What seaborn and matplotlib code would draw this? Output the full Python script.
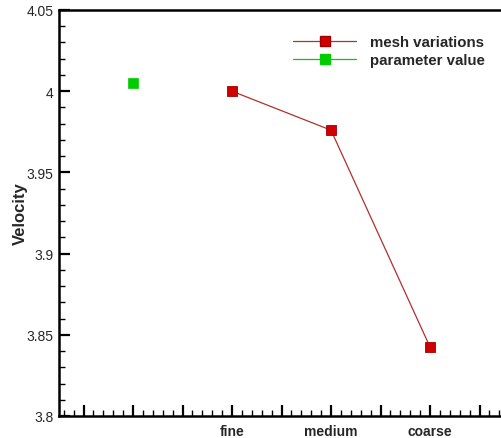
import matplotlib
matplotlib.use("Agg")
import matplotlib.pyplot as plt
import seaborn as sns
import pandas as pd
from matplotlib.lines import Line2D
from matplotlib.ticker import MultipleLocator

mesh_labels = ["fine", "medium", "coarse"]
mesh_x = [3, 4, 5]
mesh_velocity = [4.000, 3.976, 3.8425]
param_x = [2]
param_velocity = [4.005]

sns.set_style("white")
plt.rcParams['font.family'] = ['Liberation Sans', 'DejaVu Sans']

fig = plt.figure(figsize=(5.01, 4.39), dpi=100)
W, H = 501, 439
ax = fig.add_axes([59 / W, 1 - 417 / H, (501 - 59) / W, (417 - 11) / H])

mesh_df = pd.DataFrame({"x": mesh_x, "v": mesh_velocity})
param_df = pd.DataFrame({"x": param_x, "v": param_velocity})

red = "#d10000"
green = "#00cc00"
sns.lineplot(data=mesh_df, x="x", y="v", ax=ax, color="#b03030", lw=0.9,
             marker="s", markersize=7, markerfacecolor=red,
             markeredgecolor="#a00000", markeredgewidth=0.6)
sns.scatterplot(data=param_df, x="x", y="v", ax=ax, color=green, marker="s",
                s=49, edgecolor=green, linewidth=0.5)

unit = 99.0
x_left = 2 - (133 - 59) / unit
x_right = 2 + (501 - 133) / unit
ax.set_xlim(x_left, x_right)
ax.set_ylim(3.8, 4.05)

ax.set_xticks(mesh_x + [1.5, 2, 2.5, 3.5, 4.5, 5.5])
ax.set_xticklabels(mesh_labels + [""] * 6, fontweight="bold", fontsize=10)
ax.set_yticks([3.8, 3.85, 3.9, 3.95, 4.0, 4.05])
ax.set_yticklabels(["3.8", "3.85", "3.9", "3.95", "4", "4.05"], fontsize=10)
ax.xaxis.set_minor_locator(MultipleLocator(0.1))
ax.yaxis.set_minor_locator(MultipleLocator(0.01))

ax.tick_params(axis="both", which="both", bottom=True, left=True,
               top=False, right=False, direction="in", color="black")
ax.tick_params(axis="both", which="major", length=8, width=1.6, pad=4)
ax.tick_params(axis="both", which="minor", length=4, width=1)
ax.tick_params(axis="x", which="major", pad=6)

for s in ["left", "bottom", "top"]:
    ax.spines[s].set_linewidth(1.8)
    ax.spines[s].set_color("black")
ax.spines["right"].set_visible(False)

ax.set_xlabel("")
ax.set_ylabel("Velocity", fontweight="bold", fontsize=12, labelpad=-1)

handles = [
    Line2D([], [], color="#b03030", lw=0.9, marker="s", markersize=7,
           markerfacecolor=red, markeredgecolor="#a00000"),
    Line2D([], [], color=green, lw=0.9, marker="s", markersize=7,
           markerfacecolor=green, markeredgecolor=green),
]
leg = ax.legend(handles, ["mesh variations", "parameter value"],
                loc="upper left",
                bbox_to_anchor=((293 - 59) / (501 - 59), 1 - (36 - 11) / 406),
                frameon=False, handlelength=4.2, handletextpad=0.9,
                labelspacing=0.25, borderaxespad=0, borderpad=0,
                prop={"weight": "bold", "size": 10.8})

fig.savefig("out.png", dpi=100)
